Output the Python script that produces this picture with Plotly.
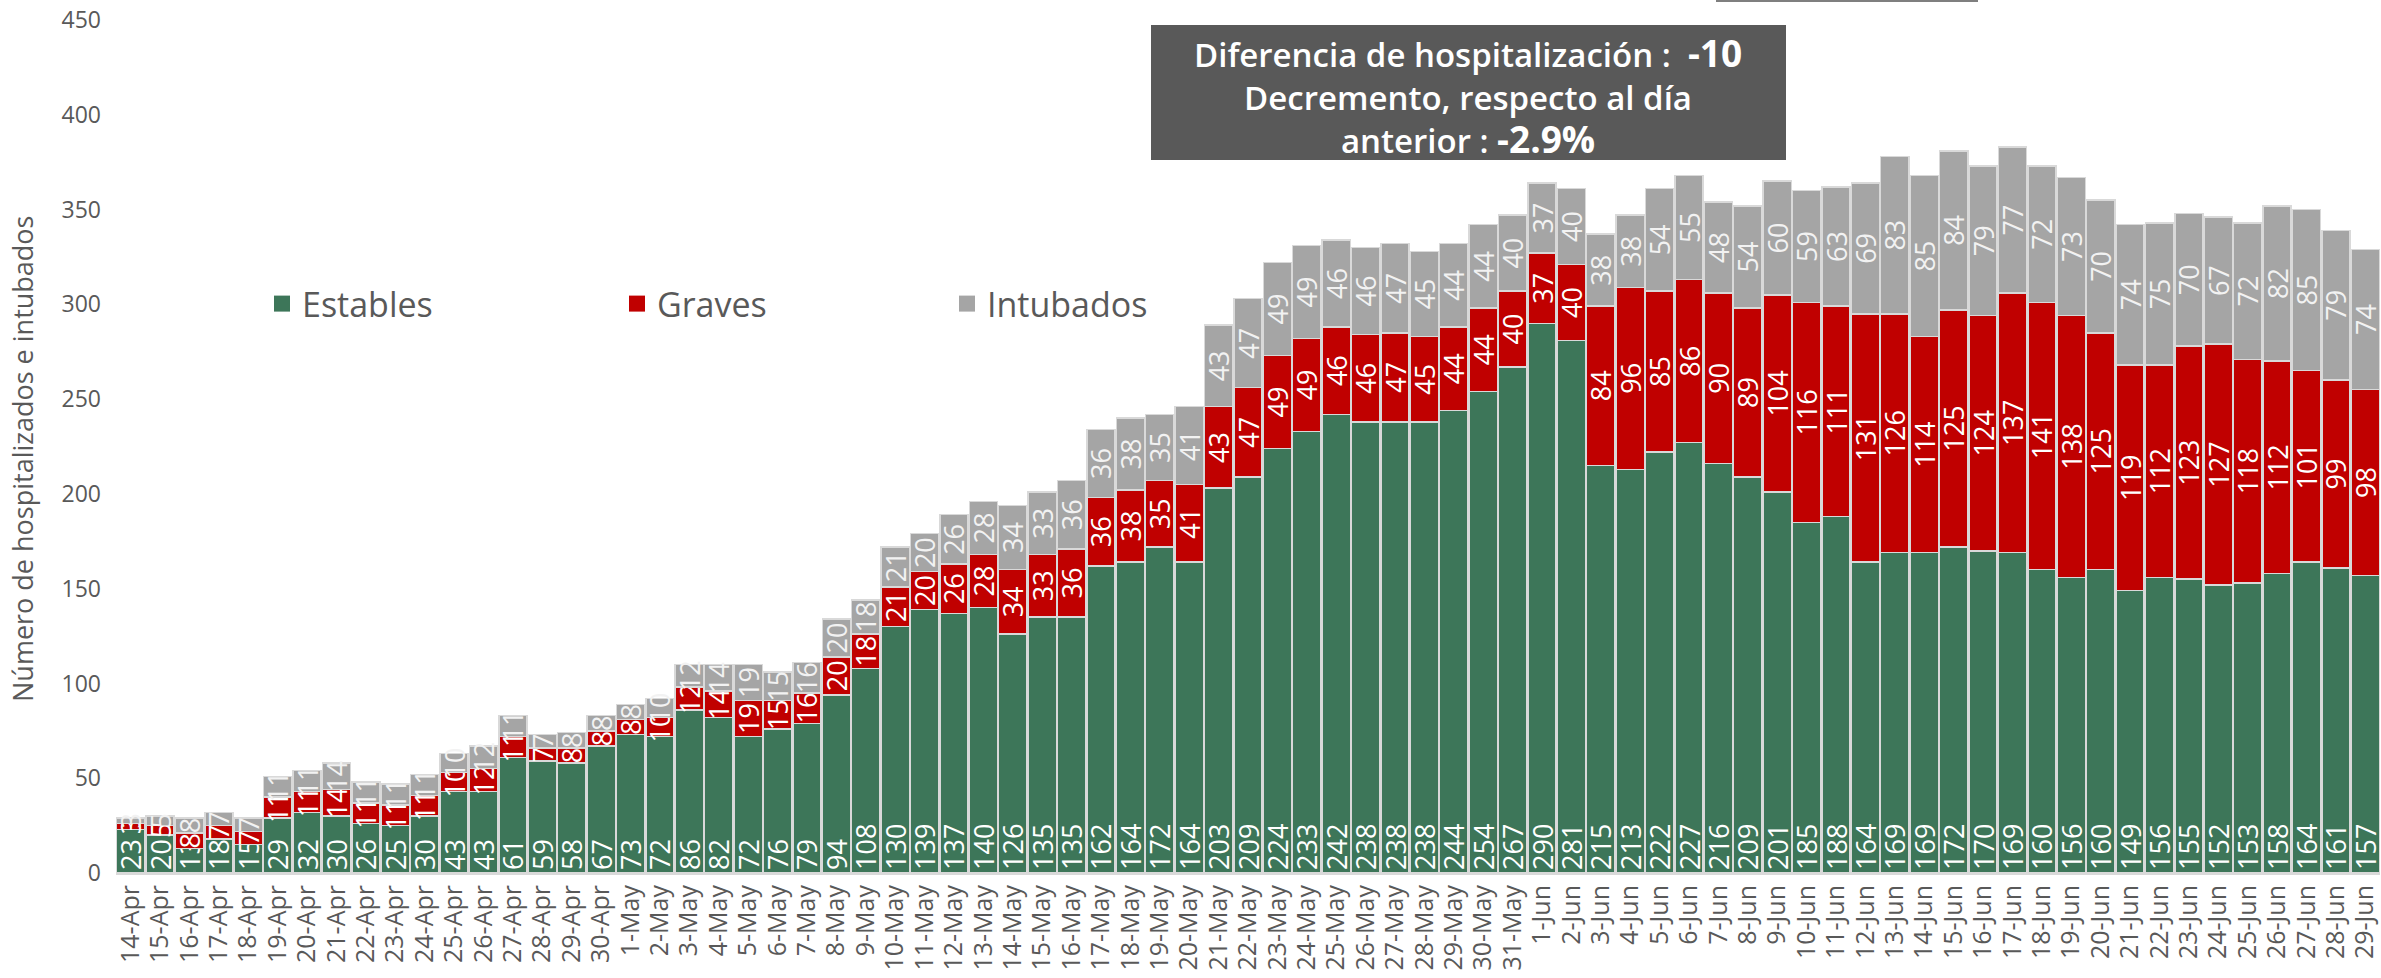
import plotly.graph_objects as go

dates = ["14-Apr","15-Apr","16-Apr","17-Apr","18-Apr","19-Apr","20-Apr","21-Apr","22-Apr","23-Apr",
         "24-Apr","25-Apr","26-Apr","27-Apr","28-Apr","29-Apr","30-Apr",
         "1-May","2-May","3-May","4-May","5-May","6-May","7-May","8-May","9-May","10-May",
         "11-May","12-May","13-May","14-May","15-May","16-May","17-May","18-May","19-May","20-May",
         "21-May","22-May","23-May","24-May","25-May","26-May","27-May","28-May","29-May","30-May","31-May",
         "1-Jun","2-Jun","3-Jun","4-Jun","5-Jun","6-Jun","7-Jun","8-Jun","9-Jun","10-Jun",
         "11-Jun","12-Jun","13-Jun","14-Jun","15-Jun","16-Jun","17-Jun","18-Jun","19-Jun","20-Jun",
         "21-Jun","22-Jun","23-Jun","24-Jun","25-Jun","26-Jun","27-Jun","28-Jun","29-Jun"]

estables = [23,20,13,18,15,29,32,30,26,25,
            30,43,43,61,59,58,67,
            73,72,86,82,72,76,79,94,108,130,
            139,137,140,126,135,135,162,164,172,164,
            203,209,224,233,242,238,238,238,244,254,267,
            290,281,215,213,222,227,216,209,201,185,
            188,164,169,169,172,170,169,160,156,160,
            149,156,155,152,153,158,164,161,157]

graves = [3,5,8,7,7,11,11,14,11,11,
          11,10,12,11,7,8,8,
          8,10,12,14,19,15,16,20,18,21,
          20,26,28,34,33,36,36,38,35,41,
          43,47,49,49,46,46,47,45,44,44,40,
          37,40,84,96,85,86,90,89,104,116,
          111,131,126,114,125,124,137,141,138,125,
          119,112,123,127,118,112,101,99,98]

intubados = [3,5,8,7,7,11,11,14,11,11,
             11,10,12,11,7,8,8,
             8,10,12,14,19,15,16,20,18,21,
             20,26,28,34,33,36,36,38,35,41,
             43,47,49,49,46,46,47,45,44,44,40,
             37,40,38,38,54,55,48,54,60,59,
             63,69,83,85,84,79,77,72,73,70,
             74,75,70,67,72,82,85,79,74]

y_ticks = [0, 50, 100, 150, 200, 250, 300, 350, 400, 450]

FONT = "Open Sans"
GREEN = "#3d7659"
RED = "#c00000"
GRAY = "#a5a5a5"
TXT = "#595959"
LBL = 27

fig = go.Figure()
series = [("Estables", estables, GREEN, "start", "legend"),
          ("Graves", graves, RED, "middle", "legend2"),
          ("Intubados", intubados, GRAY, "middle", "legend3")]
for name, vals, col, anchor, lg in series:
    fig.add_trace(go.Bar(
        x=dates, y=vals, name=name, showlegend=False,
        marker=dict(color=col, line=dict(color="#d9d9d9", width=1.5)),
        text=[str(v) for v in vals], textposition="inside",
        insidetextanchor=anchor, textangle=-90,
        textfont=dict(family=FONT, size=LBL, color="#ffffff" if col != GRAY else "#f2f2f2"),
        hoverinfo="skip",
    ))
    # legend entry with a larger square swatch
    fig.add_trace(go.Scatter(
        x=[None], y=[None], mode="markers", name=name, showlegend=True,
        marker=dict(symbol="square", size=17, color=col), legend=lg, hoverinfo="skip",
    ))

W_PLOT = 2264.0
H_PLOT = 853.0
def px_x(px):
    return (px - 116) / W_PLOT
def px_y(py):
    return (873 - py) / H_PLOT

leg_common = dict(orientation="h", yanchor="middle", xanchor="left",
                  font=dict(family=FONT, size=34, color=TXT), itemsizing="trace",
                  bgcolor="rgba(0,0,0,0)", itemwidth=30, visible=True)
fig.update_layout(
    barmode="stack",
    bargap=0.04,
    width=2381, height=978,
    margin=dict(l=116, r=1, t=20, b=105),
    paper_bgcolor="white", plot_bgcolor="white",
    font=dict(family=FONT, color=TXT),
    showlegend=True,
    uniformtext=dict(minsize=LBL, mode="show"),
    legend=dict(x=px_x(262), y=px_y(304), **leg_common),
    legend2=dict(x=px_x(617), y=px_y(304), **leg_common),
    legend3=dict(x=px_x(947), y=px_y(304), **leg_common),
    xaxis=dict(type="category", tickangle=-90, showgrid=False, ticks="",
               tickmode="array", tickvals=dates, ticktext=dates,
               showline=True, linecolor="#d9d9d9", linewidth=2,
               tickfont=dict(family=FONT, size=25, color=TXT),
               range=[-0.5, len(dates) - 0.5]),
    yaxis=dict(range=[0, 450], tickvals=y_ticks, showgrid=False, zeroline=False,
               showline=False, ticks="", ticklabelstandoff=14,
               tickfont=dict(family=FONT, size=23, color=TXT)),
)

fig.add_annotation(text="Número de hospitalizados e intubados", textangle=-90,
                   xref="paper", yref="paper", x=px_x(23), y=px_y(459),
                   xanchor="center", yanchor="middle",
                   showarrow=False, font=dict(family=FONT, size=27, color=TXT))

fig.add_shape(type="rect", xref="paper", yref="paper",
              x0=px_x(1151), x1=px_x(1786), y0=px_y(160), y1=px_y(25),
              fillcolor="#595959", line=dict(width=0), layer="above")
fig.add_annotation(
    text=("Diferencia de hospitalización :  <b><span style='font-size:37px'>-10</span></b><br>"
          "Decremento, respecto al día<br>"
          "anterior : <b><span style='font-size:37px'>-2.9%</span></b>"),
    xref="paper", yref="paper", x=px_x(1468), y=px_y(96), showarrow=False,
    xanchor="center", yanchor="middle",
    align="center", font=dict(family=FONT, size=33, color="white", weight=600))

fig.add_shape(type="rect", xref="paper", yref="paper",
              x0=px_x(1716), x1=px_x(1978), y0=px_y(2), y1=px_y(0),
              fillcolor="#7f7f7f", line=dict(width=0))

fig.write_html("out.html", config={"displayModeBar": False},
               post_script="document.body.style.margin='0';document.body.style.overflow='hidden';")
